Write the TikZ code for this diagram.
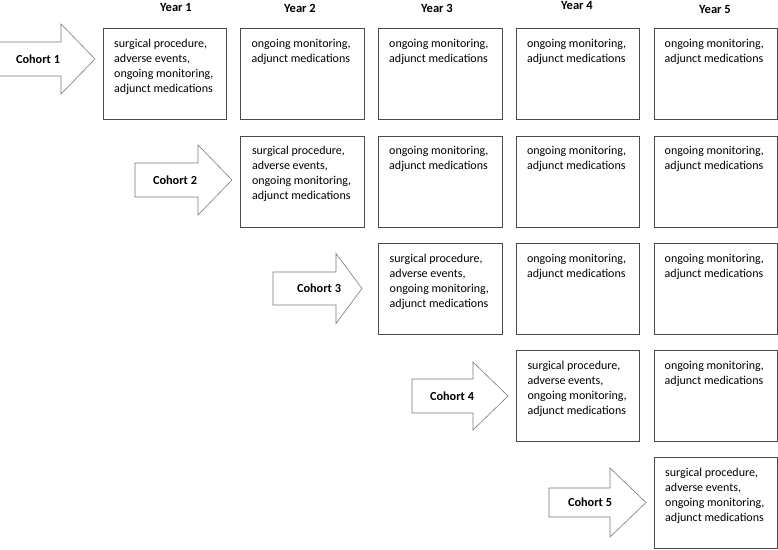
\documentclass[tikz,border=0pt]{standalone}
\usepackage{fontspec}
\setmainfont{Carlito}
\definecolor{boxgray}{HTML}{4A4A4A}
\definecolor{arrowgray}{HTML}{7A7A7A}
\newcommand{\cohortarrow}[7]{% L, B, T, cy, s, h, name
  \draw[arrowshape] (#1,#4-#5) -- (#2,#4-#5) -- (#2,#4-#6) -- (#3,#4)
    -- (#2,#4+#6) -- (#2,#4+#5) -- (#1,#4+#5) -- cycle;}
\newcommand{\firstcelltext}{\vtop{\baselineskip=15pt\lineskiplimit=-20pt
  \hbox{surgical procedure,}\hbox{adverse events,}\hbox{ongoing monitoring,}\hbox{adjunct medications}}}
\newcommand{\latercelltext}{\vtop{\baselineskip=15pt\lineskiplimit=-20pt
  \hbox{ongoing monitoring,}\hbox{adjunct medications}}}
\begin{document}
\begin{tikzpicture}[x=1pt,y=-1pt,
  cell/.style={draw=boxgray, line width=0.8pt, minimum width=123.5pt, minimum height=91pt, inner sep=0pt, anchor=north west},
  celltext/.style={anchor=base west, inner sep=0pt, font=\fontsize{12}{15}\selectfont},
  yearlabel/.style={anchor=base, inner sep=0pt, font=\bfseries\fontsize{12.5}{15}\selectfont},
  cohortlabel/.style={inner sep=0pt, font=\bfseries\fontsize{12.3}{15}\selectfont},
  arrowshape/.style={draw=arrowgray, line width=0.6pt, fill=white, line join=miter}]
\useasboundingbox (0,0) rectangle (778,549);
% year headings
\node[yearlabel] (y1) at (176,11) {Year 1};
\node[yearlabel] (y2) at (300,12) {Year 2};
\node[yearlabel] (y3) at (437,12) {Year 3};
\node[yearlabel] (y4) at (577,9.5) {Year 4};
\node[yearlabel] (y5) at (715,13) {Year 5};
% cells
\foreach \r/\ry in {1/28,2/135.5,3/243,4/350,5/457}{
  \foreach \c/\cx in {1/102.5,2/240.3,3/378,4/515.8,5/653.5}{
    \ifnum\c<\r\relax\else
      \node[cell] (c\r\c) at (\cx,\ry) {};
      \ifnum\c=\r\relax
        \node[celltext] (t\r\c) at ([shift={(11.5,19)}]c\r\c.north west) {\firstcelltext};
      \else
        \node[celltext] (t\r\c) at ([shift={(11,19)}]c\r\c.north west) {\latercelltext};
      \fi
    \fi
  }
}
% cohort arrows
\cohortarrow{-1}{61}{95}{59}{17}{35}{a1}
\node[cohortlabel] (a1) at (38,59) {Cohort 1};
\cohortarrow{135}{198}{232}{180}{17}{35}{a2}
\node[cohortlabel] (a2) at (175,180) {Cohort 2};
\cohortarrow{273}{336}{362}{288.5}{16.5}{35}{a3}
\node[cohortlabel] (a3) at (319,288.5) {Cohort 3};
\cohortarrow{412}{473}{508}{396}{17}{34}{a4}
\node[cohortlabel] (a4) at (452,396) {Cohort 4};
\cohortarrow{549}{610}{646}{502.5}{14.5}{34.5}{a5}
\node[cohortlabel] (a5) at (590,502.5) {Cohort 5};
\end{tikzpicture}
\end{document}
